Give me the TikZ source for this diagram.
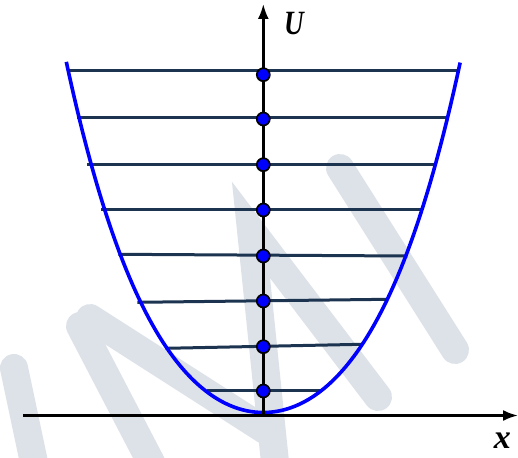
\documentclass[tikz,border=0pt]{standalone}
\usepackage{fontspec}
\newfontfamily\lblfont{Liberation Serif}
\usetikzlibrary{arrows.meta}
\definecolor{wm}{RGB}{221,226,233}
\definecolor{lvl}{RGB}{28,52,80}
\definecolor{pblue}{RGB}{0,0,255}
\tikzset{
  wmark/.style={wm, line width=28pt, line cap=round},
  axisline/.style={black, line width=2.4pt, -{Latex[length=15pt,width=11pt]}},
  level/.style={lvl, line width=3pt},
  curve/.style={pblue, line width=3.6pt},
  dot/.style={circle, fill=pblue, draw=black, line width=1.7pt, minimum size=13pt, inner sep=0pt},
  lbl/.style={inner sep=0pt, font=\lblfont\bfseries\itshape}
}
\begin{document}
\begin{tikzpicture}[x=1pt, y=-1pt]
\useasboundingbox[fill=white] (0,0) rectangle (518,457);
% watermark
\draw[wmark] (14,368) -- (36,472);
\draw[wmark] (80,326) -- (156,472);
\draw[wmark] (90,318) -- (265,430);
\draw[wmark] (276,472) -- (251,230) -- (378,397);
\draw[wmark] (340,168) -- (455,350);
% level lines
\draw[level] (66.7,71) -- (456.7,71);
\draw[level] (76.7,117.7) -- (448.3,117.7);
\draw[level] (87.3,164) -- (437.3,164);
\draw[level] (101,209) -- (423.3,209);
\draw[level] (118.3,254.3) -- (407.3,256);
\draw[level] (137.3,302.3) -- (387.7,299.3);
\draw[level] (165.7,348.3) -- (361.7,344.3);
\draw[level] (206.7,390.7) -- (321.7,390.7);
% curve
\draw[curve] plot[domain=-1.97:1.97, samples=120, variable=\u]
  ({263.3+100*\u}, {412.5-(62.6*\u*\u+7.15*\u*\u*\u*\u)});
% axes
\coordinate (xs) at (23,415.5);
\coordinate (xe) at (518,415.5);
\coordinate (us) at (263.3,415.5);
\coordinate (ue) at (263.3,4);
\draw[axisline] (xs) -- (xe);
\draw[axisline] (us) -- (ue);
% dots
\foreach \n/\y in {1/74.7,2/119,3/164.7,4/210,5/256,6/301,7/346.7,8/391}
  \node[dot] (d\n) at (263.3,\y) {};
% labels
\node[lbl, anchor=base west, font=\fontsize{34}{34}\selectfont\lblfont\bfseries\itshape, xscale=0.8] (U) at (284,35) {U};
\node[lbl, anchor=base east, font=\fontsize{34}{34}\selectfont\lblfont\bfseries\itshape] (X) at (511,448) {x};
\end{tikzpicture}
\end{document}
